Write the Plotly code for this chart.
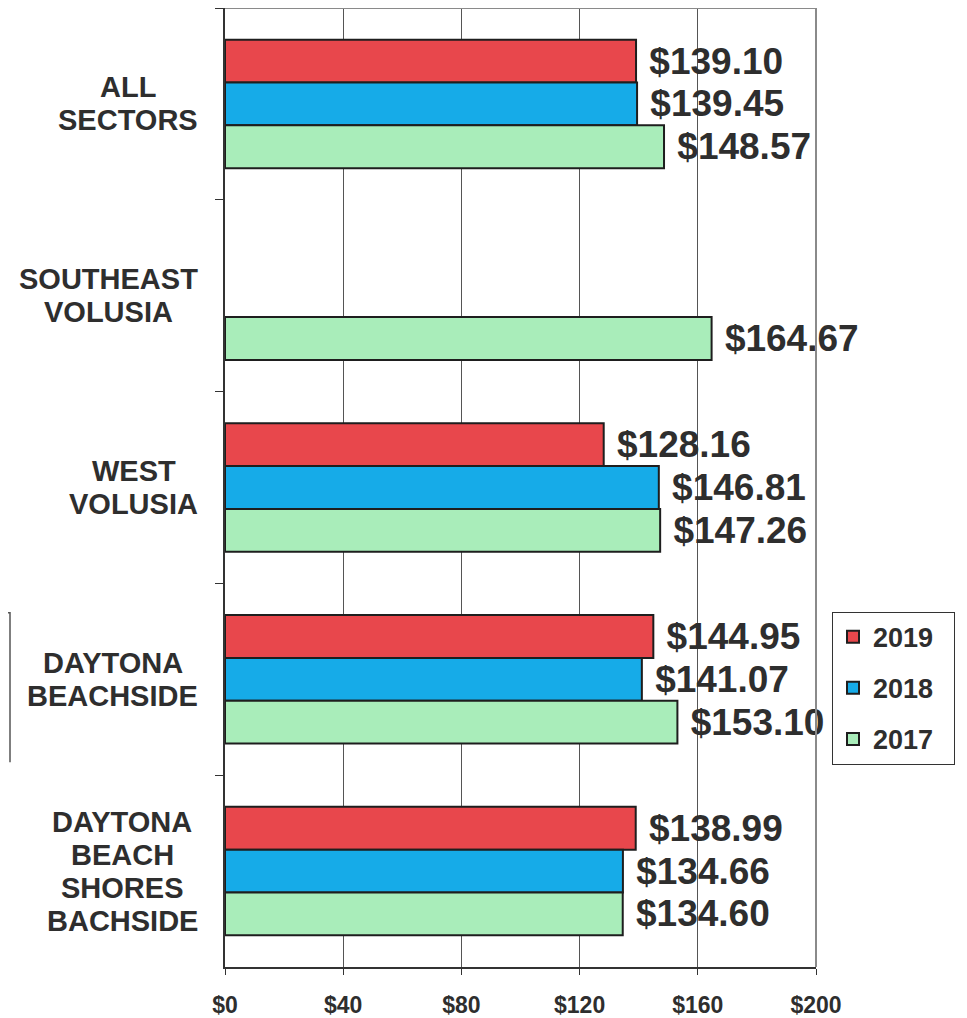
import plotly.graph_objects as go

categories = ["ALL SECTORS", "SOUTHEAST VOLUSIA", "WEST VOLUSIA", "DAYTONA BEACHSIDE",
              "DAYTONA BEACH SHORES BACHSIDE"]
category_lines = [["ALL", "SECTORS"], ["SOUTHEAST", "VOLUSIA"], ["WEST", "VOLUSIA"],
                  ["DAYTONA", "BEACHSIDE"], ["DAYTONA", "BEACH", "SHORES", "BACHSIDE"]]
years = ["2019", "2018", "2017"]
values_2019 = [139.10, None, 128.16, 144.95, 138.99]
values_2018 = [139.45, None, 146.81, 141.07, 134.66]
values_2017 = [148.57, 164.67, 147.26, 153.10, 134.60]
x_ticks = [0, 40, 80, 120, 160, 200]
x_tick_labels = ["$0", "$40", "$80", "$120", "$160", "$200"]

series = [values_2019, values_2018, values_2017]
colors = ["#E8474C", "#16ABE8", "#A9EDBA"]
FONT = "Liberation Sans, Arial, Helvetica, sans-serif"
TXT = "#2e2e2e"

# page has an 8px body margin; plot area in page px: x 225..816, y 8..977
OFF = 8
PL, PR, PT, PB = 225, 816, 8, 977
PW, PH = PR - PL, PB - PT

# Arial/Liberation Sans Bold advance widths (em) for label centring
W = {"A": .722, "B": .722, "C": .722, "D": .722, "E": .667, "H": .722, "I": .278,
     "L": .611, "N": .722, "O": .778, "R": .722, "S": .667, "T": .611, "U": .722,
     "V": .667, "W": .944, "Y": .667}
LABEL_SIZE = 29
LABEL_RIGHT = 198
LINE_H = 33


def px_x(X):
    return (X - PL) / PW


def px_y(Y):
    return 1 - (Y - PT) / PH


fig = go.Figure()
for yr, vals, col in zip(years, series, colors):
    fig.add_trace(go.Bar(
        y=categories, x=vals, name=yr + "\u00a0\u00a0", orientation="h",
        marker=dict(color=col, line=dict(color="#1e1e1e", width=2)),
        texttemplate=" $%{x:.2f}", textposition="outside",
        textfont=dict(family=FONT, size=37, color=TXT, weight="bold"),
        constraintext="none", cliponaxis=False,
        legendgroup=yr,
    ))

for cat, lines in zip(categories, category_lines):
    n = len(lines)
    block_w = max(sum(W.get(c, .667) for c in ln) for ln in lines) * LABEL_SIZE
    centre = LABEL_RIGHT - block_w / 2
    for i, ln in enumerate(lines):
        fig.add_annotation(
            x=px_x(centre), xref="paper", y=cat, yref="y",
            text=ln, showarrow=False, xanchor="center", yanchor="middle",
            yshift=((n - 1) / 2 - i) * LINE_H,
            font=dict(family=FONT, size=LABEL_SIZE, color=TXT, weight="bold"),
        )

# top and right border (gray)
fig.add_shape(type="line", xref="paper", yref="paper", x0=0, x1=1, y0=1, y1=1,
              line=dict(color="#8a8a8a", width=2))
fig.add_shape(type="line", xref="paper", yref="paper", x0=1, x1=1, y0=0, y1=1,
              line=dict(color="#8a8a8a", width=2))
# scan artifact box edge at far left
fig.add_shape(type="path", xref="paper", yref="paper",
              path="M %f %f L %f %f L %f %f" % (px_x(8), px_y(619), px_x(10), px_y(619),
                                                 px_x(10), px_y(770)),
              line=dict(color="#555555", width=1.5))

fig.update_layout(
    width=967 - OFF, height=1018 - OFF,
    margin=dict(l=PL - OFF, r=967 - PR, t=PT - OFF, b=1018 - PB),
    paper_bgcolor="white", plot_bgcolor="white",
    barmode="group", bargap=0.33, bargroupgap=0,
    showlegend=True,
    legend=dict(
        x=px_x(832), y=px_y(618), xanchor="left", yanchor="top",
        bordercolor="#333333", borderwidth=1, bgcolor="white",
        font=dict(family=FONT, size=27, color=TXT, weight="bold"),
        traceorder="grouped", tracegroupgap=13,
    ),
    xaxis=dict(
        range=[0, 200], tickvals=x_ticks, ticktext=x_tick_labels,
        showgrid=True, gridcolor="#555555", gridwidth=1,
        showline=True, linecolor="#333333", linewidth=2,
        ticks="outside", ticklen=6, tickcolor="#333333",
        ticklabelstandoff=10,
        tickfont=dict(family=FONT, size=23, color=TXT, weight="bold"),
        zeroline=False, fixedrange=True,
    ),
    yaxis=dict(
        categoryorder="array", categoryarray=categories,
        range=[4.5, -0.5], showticklabels=False,
        tickson="boundaries", ticks="outside", ticklen=8, tickcolor="#333333",
        showline=True, linecolor="#333333", linewidth=2,
        showgrid=False, zeroline=False,
    ),
)

fig.write_html("out.html")
